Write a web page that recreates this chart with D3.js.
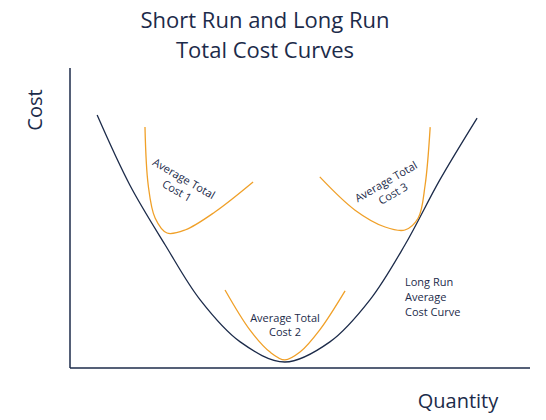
<!DOCTYPE html><html><head><script src="https://cdn.jsdelivr.net/npm/d3@7"></script>
<style>body{margin:0;background:#fff}text{font-family:"Open Sans",sans-serif;fill:#1c2b4a}</style></head><body>
<svg id="c" width="546" height="420"></svg>
<script>
const lracX=[5.9,13.0,20.7,28.3,37.0,46.7,56.5,65.2,72.8,80.4,88.5];
const lracY=[84.3,61,41,22.7,8.7,2,8.7,22.7,41,62.7,83.3];
const sr1X=[16.3,17.0,18.5,21.1,25.0,31.5,39.8];
const sr1Y=[80.3,61,50,45,46,52,62];
const sr2X=[33.7,39.1,43.5,46.7,50.0,54.3,59.8];
const sr2Y=[26,12.7,5.3,2.7,5.3,12.7,25.7];
const sr3X=[54.3,61.9,68.5,72.8,75.7,77.2,78.3];
const sr3Y=[63.7,52.7,47,46,50,61,80.3];
const svg=d3.select("#c");
const x=d3.scaleLinear([0,100],[70,530]);
const y=d3.scaleLinear([0,100],[368,68]);
const navy="#1c2b4a",orange="#f0a028";
svg.append("line").attr("x1",70).attr("x2",70).attr("y1",68).attr("y2",368).attr("stroke",navy).attr("stroke-width",1.5);
svg.append("line").attr("x1",70).attr("x2",530).attr("y1",368).attr("y2",368).attr("stroke",navy).attr("stroke-width",1.5);
const line=d3.line().x(d=>x(d[0])).y(d=>y(d[1])).curve(d3.curveCatmullRom);
function draw(xs,ys,c){svg.append("path").attr("d",line(xs.map((v,i)=>[v,ys[i]]))).attr("fill","none").attr("stroke",c).attr("stroke-width",1.3);}
draw(lracX,lracY,navy);draw(sr1X,sr1Y,orange);draw(sr2X,sr2Y,orange);draw(sr3X,sr3Y,orange);
svg.append("text").attr("x",265).attr("y",28).attr("text-anchor","middle").attr("font-size",22).text("Short Run and Long Run");
svg.append("text").attr("x",265).attr("y",58).attr("text-anchor","middle").attr("font-size",22).text("Total Cost Curves");
svg.append("text").attr("transform","translate(42,110) rotate(-90)").attr("text-anchor","middle").attr("font-size",20).text("Cost");
svg.append("text").attr("x",458).attr("y",408).attr("text-anchor","middle").attr("font-size",20).text("Quantity");
function lbl(lines,cx,cy,rot,anchor,dy){const g=svg.append("g").attr("transform",`translate(${cx},${cy}) rotate(${rot})`);
lines.forEach((t,i)=>g.append("text").attr("y",i*dy).attr("text-anchor",anchor).attr("font-size",11).text(t));}
lbl(["Average Total","Cost 1"],182,182,30,"middle",14);
lbl(["Average Total","Cost 3"],388,185,-30,"middle",14);
lbl(["Average Total","Cost 2"],285,322,0,"middle",14);
lbl(["Long Run","Average","Cost Curve"],405,286,0,"start",15);
</script></body></html>
